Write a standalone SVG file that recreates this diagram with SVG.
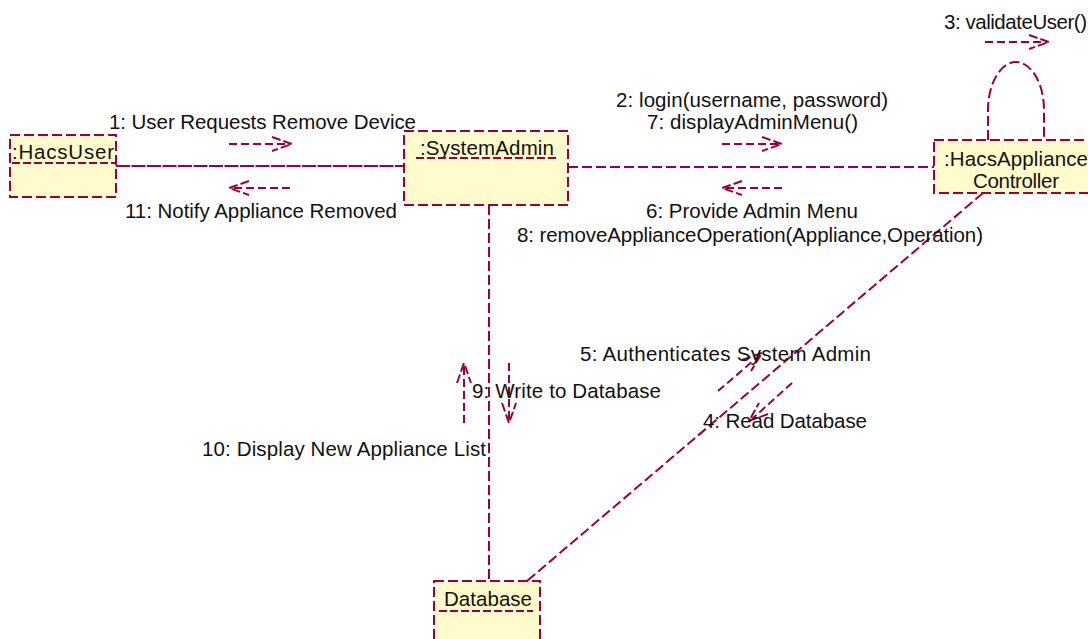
<svg xmlns="http://www.w3.org/2000/svg" width="1088" height="639" viewBox="0 0 1088 639">
<style>
.box{fill:#fffbcc;stroke:#99003d;stroke-width:2;stroke-dasharray:10 4}
.ul{stroke:#99003d;stroke-width:2;stroke-dasharray:8 3;fill:none}
.link{stroke:#99003d;stroke-width:2;fill:none;stroke-dasharray:10 4}
.msg{stroke:#99003d;stroke-width:2;fill:none;stroke-dasharray:8 4}
.head{stroke:#99003d;stroke-width:2;fill:none;stroke-dasharray:9 3}
text{font-family:"Liberation Sans",Arial,sans-serif;font-size:20.5px;fill:#111}
</style>
<rect width="1088" height="639" fill="#fff"/>
<g id="connectors">
<path class="link" d="M116 166H404" style="stroke-dasharray:14 1.5"/>
<path class="link" d="M568 167H934"/>
<path class="link" d="M489 205V581"/>
<path class="link" d="M983 193L527 581"/>
<path class="link" d="M988 140V110A28 48 0 0 1 1044 110V140"/>
</g>
<g id="messages">
<path class="msg" d="M229 144H290"/><path class="head" d="M272 137L292 144L272 151"/>
<path class="msg" d="M290 188H231"/><path class="head" d="M249 181L229 188L249 195"/>
<path class="msg" d="M722 144H780"/><path class="head" d="M762 137L782 144L762 151"/>
<path class="msg" d="M782 188H724"/><path class="head" d="M742 181L722 188L742 195"/>
<path class="msg" d="M985 42H1047"/><path class="head" d="M1029 35L1049 42L1029 49"/>
<path class="msg" d="M464 423V365"/><path class="head" d="M457 383L464 363L471 383"/>
<path class="msg" d="M509 363V421"/><path class="head" d="M502 403L509 423L516 403"/>
<path class="msg" d="M718 391L760 355"/><path class="head" d="M742 360L762 353L751 371"/>
<path class="msg" d="M792 383L752 419"/><path class="head" d="M768 414L749 421L759 403"/>
</g>
<g id="labels">
<text x="109" y="129" textLength="307">1: User Requests Remove Device</text>
<text x="125" y="218" textLength="272">11: Notify Appliance Removed</text>
<text x="616" y="107" textLength="272">2: login(username, password)</text>
<text x="647" y="129" textLength="211">7: displayAdminMenu()</text>
<text x="646" y="218" textLength="212">6: Provide Admin Menu</text>
<text x="517" y="242" textLength="466">8: removeApplianceOperation(Appliance,Operation)</text>
<text x="944" y="29" textLength="143">3: validateUser()</text>
<text x="580" y="361" textLength="291">5: Authenticates System Admin</text>
<text x="703" y="428" textLength="164">4: Read Database</text>
<text x="472" y="398" textLength="189">9: Write to Database</text>
<text x="202" y="456" textLength="284">10: Display New Appliance List</text>
</g>
<g id="HacsUser">
<rect class="box" x="10" y="135" width="106" height="62"/>
<text x="12" y="159" textLength="102">:HacsUser</text>
<path class="ul" d="M12 163H115"/>
</g>
<g id="SystemAdmin">
<rect class="box" x="404" y="131" width="164" height="74"/>
<text x="420" y="155" textLength="134">:SystemAdmin</text>
<path class="ul" d="M416 158H557"/>
</g>
<g id="HacsApplianceController">
<rect class="box" x="934" y="140" width="170" height="53"/>
<text x="944" y="166" textLength="144">:HacsAppliance</text>
<text x="973" y="188" textLength="86">Controller</text>
</g>
<g id="Database">
<rect class="box" x="434" y="581" width="106" height="70"/>
<text x="444" y="606" textLength="88">Database</text>
<path class="ul" d="M439 611H533"/>
</g>
</svg>
